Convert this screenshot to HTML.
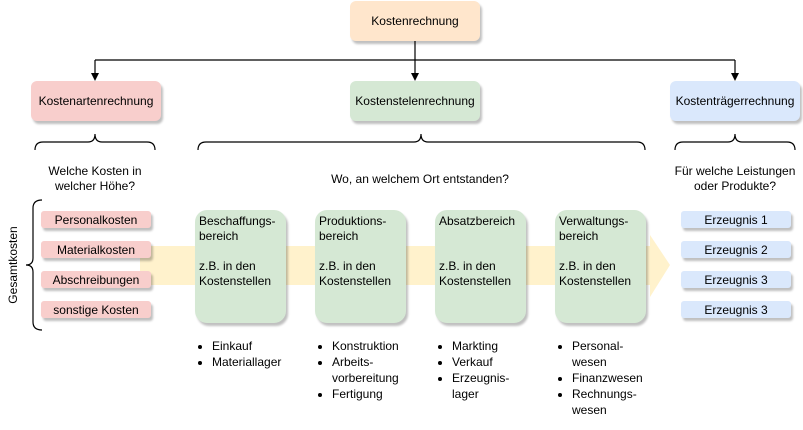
<!DOCTYPE html>
<html><head><meta charset="utf-8"><style>
body{margin:0;width:803px;height:430px;background:#fff;position:relative;font-family:"Liberation Sans",sans-serif;font-size:12px;color:#000;overflow:hidden}
.b{position:absolute;box-sizing:border-box;border-radius:6px;box-shadow:2px 3px 2px rgba(0,0,0,0.25);display:flex;align-items:center;justify-content:center}
.s{position:absolute;box-sizing:border-box;border-radius:3px;box-shadow:2px 3px 2px rgba(0,0,0,0.25);display:flex;align-items:center;justify-content:center;height:17px;width:110px}
.r{background:#f8cecc}.g{background:#d5e8d4}.o{background:#ffe6cc}.bl{background:#dae8fc}
.gb{position:absolute;width:91px;height:113px;top:210px;background:#d5e8d4;border-radius:12px;box-shadow:2px 3px 2px rgba(0,0,0,0.25);padding:4px 4px;box-sizing:border-box;line-height:15px}
.t{position:absolute;text-align:center;line-height:15px}
ul{position:absolute;margin:0;padding:0 0 0 15px;list-style:disc;line-height:16px;top:338px}
</style></head><body>
<svg width="803" height="430" style="position:absolute;left:0;top:0">
<polygon points="140,246 650,246 650,235 670,265 650,297 650,285 140,285" fill="#fff2cc"/>
<g stroke="#000" stroke-width="1.2" fill="none">
<path d="M415,41V74M95,60H735M95,60V74M735,60V74"/>
<path d="M35,150q0,-8 8,-8H88q7,0 7,-8q0,8 7,8H147q8,0 8,8"/>
<path d="M198,150q0,-8 8,-8H414q7,0 7,-8q0,8 7,8H637q8,0 8,8"/>
<path d="M675,150q0,-8 8,-8H728q7,0 7,-8q0,8 7,8H787q8,0 8,8"/>
<path d="M42,200q-9,0 -9,8V258q0,7 -7,7q7,0 7,7V322q0,8 9,8"/>
</g>
<g fill="#000"><polygon points="91,73 99,73 95,81"/><polygon points="411,73 419,73 415,81"/><polygon points="731,73 739,73 735,81"/></g>
<text x="17" y="265" transform="rotate(-90 17 265)" text-anchor="middle" font-family="Liberation Sans" font-size="12">Gesamtkosten</text>
</svg>
<div class="b o" style="left:350px;top:1px;width:130px;height:40px">Kostenrechnung</div>
<div class="b r" style="left:31px;top:81px;width:130px;height:40px">Kostenartenrechnung</div>
<div class="b g" style="left:350px;top:81px;width:130px;height:40px">Kostenstelenrechnung</div>
<div class="b bl" style="left:670px;top:81px;width:130px;height:40px">Kostenträgerrechnung</div>
<div class="t" style="left:20px;width:150px;top:164px">Welche Kosten in<br>welcher Höhe?</div>
<div class="t" style="left:270px;width:300px;top:172px">Wo, an welchem Ort entstanden?</div>
<div class="t" style="left:660px;width:150px;top:164px">Für welche Leistungen<br>oder Produkte?</div>
<div class="s r" style="left:41px;top:211px">Personalkosten</div>
<div class="s r" style="left:41px;top:241px">Materialkosten</div>
<div class="s r" style="left:41px;top:271px">Abschreibungen</div>
<div class="s r" style="left:41px;top:301px">sonstige Kosten</div>
<div class="s bl" style="left:681px;top:211px">Erzeugnis 1</div>
<div class="s bl" style="left:681px;top:241px">Erzeugnis 2</div>
<div class="s bl" style="left:681px;top:271px">Erzeugnis 3</div>
<div class="s bl" style="left:681px;top:301px">Erzeugnis 3</div>
<div class="gb" style="left:195px">Beschaffungs-<br>bereich<br><br>z.B. in den<br>Kostenstellen</div>
<div class="gb" style="left:315px">Produktions-<br>bereich<br><br>z.B. in den<br>Kostenstellen</div>
<div class="gb" style="left:435px">Absatzbereich<br><br><br>z.B. in den<br>Kostenstellen</div>
<div class="gb" style="left:555px">Verwaltungs-<br>bereich<br><br>z.B. in den<br>Kostenstellen</div>
<ul style="left:197px"><li>Einkauf</li><li>Materiallager</li></ul>
<ul style="left:317px"><li>Konstruktion</li><li>Arbeits-<br>vorbereitung</li><li>Fertigung</li></ul>
<ul style="left:437px"><li>Markting</li><li>Verkauf</li><li>Erzeugnis-<br>lager</li></ul>
<ul style="left:557px"><li>Personal-<br>wesen</li><li>Finanzwesen</li><li>Rechnungs-<br>wesen</li></ul>
</body></html>
